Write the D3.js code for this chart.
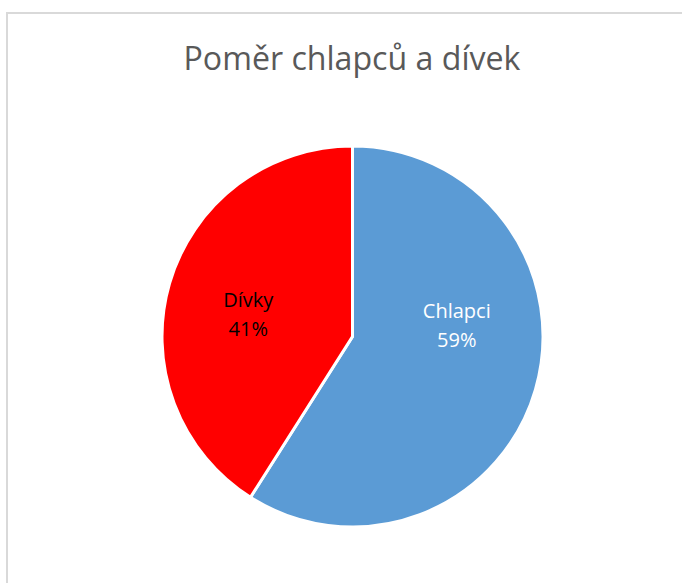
<!DOCTYPE html>
<html><head><meta charset="utf-8">
<script src="https://cdn.jsdelivr.net/npm/d3@7"></script>
<style>html,body{margin:0;padding:0;background:#fff;}svg{display:block;}</style>
</head><body>
<script>
const title = "Poměr chlapců a dívek";
const categories = ["Chlapci", "Dívky"];
const values = [59, 41];
const labels = ["59%", "41%"];
const colors = ["#5B9BD5", "#FF0000"];
const labelColors = ["#FFFFFF", "#000000"];

const W = 682, H = 583;
const svg = d3.select("body").append("svg").attr("width", W).attr("height", H);
svg.append("rect").attr("width", W).attr("height", H).attr("fill", "#fff");
// chart border (top and left visible)
svg.append("path").attr("d", "M7,583 V13 H682").attr("fill", "none").attr("stroke", "#D9D9D9").attr("stroke-width", 2);

svg.append("text").attr("x", 352).attr("y", 70).attr("text-anchor", "middle")
  .attr("font-family", "Open Sans, sans-serif").attr("font-size", 33).attr("fill", "#595959")
  .attr("textLength", 337).attr("lengthAdjust", "spacingAndGlyphs")
  .text(title);

const cx = 352.5, cy = 336.5, r = 190.5;
// vertical placement of each label block (Excel best-fit), offsets in px from the centroid
const labelShiftY = [-49, 1];
const data = categories.map((c, i) => ({c, v: values[i], label: labels[i], color: colors[i], lc: labelColors[i], sy: labelShiftY[i]}));
const pie = d3.pie().value(d => d.v).sort(null);
const arc = d3.arc().innerRadius(0).outerRadius(r);
const g = svg.append("g").attr("transform", `translate(${cx},${cy})`);
const arcs = pie(data);
g.selectAll("path").data(arcs).join("path").attr("d", arc)
  .attr("fill", d => d.data.color).attr("stroke", "#fff").attr("stroke-width", 3).attr("stroke-linejoin", "miter");

const labelArc = d3.arc().innerRadius(r * 0.57).outerRadius(r * 0.57);
const t = g.selectAll("text.lbl").data(arcs).join("text").attr("class", "lbl")
  .attr("transform", d => { const [x, y] = labelArc.centroid(d); return `translate(${x},${y + d.data.sy})`; })
  .attr("text-anchor", "middle").attr("font-family", "Open Sans, sans-serif").attr("font-size", 20)
  .attr("fill", d => d.data.lc);
t.append("tspan").attr("x", 0).attr("dy", 0).text(d => d.data.c);
t.append("tspan").attr("x", 0).attr("dy", 29).text(d => d.data.label);
</script>
</body></html>
